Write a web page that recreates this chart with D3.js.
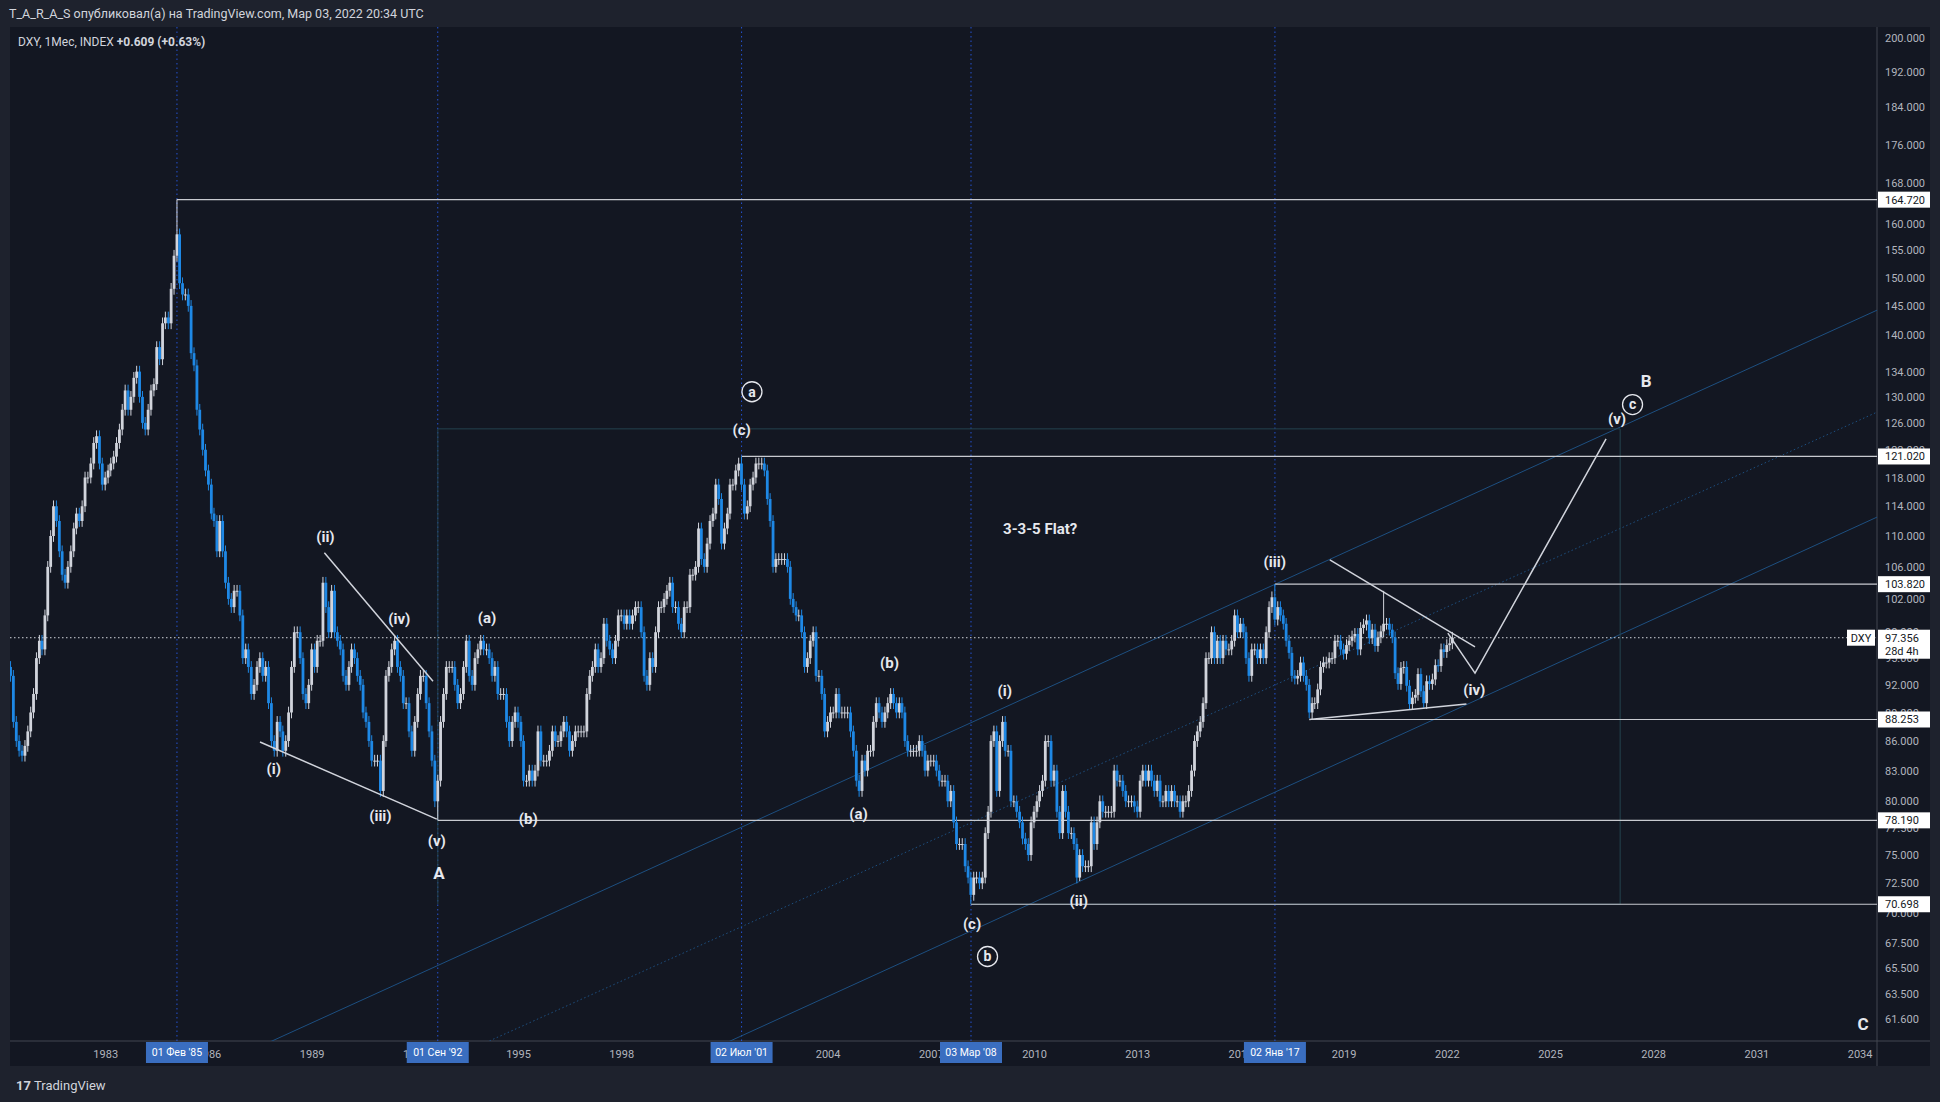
<!DOCTYPE html>
<html><head><meta charset="utf-8">
<script src="https://cdn.jsdelivr.net/npm/d3@7"></script>
<style>body{margin:0;background:#1e222d;font-family:Roboto,"Noto Sans",sans-serif}svg{display:block}</style>
</head><body><svg id="c" width="1940" height="1102"></svg>
<script>
// ---- data (monthly closes, DXY) ----
const startMonth = [1980, 3]; // April 1980 (0-based month)
const closes1980s = [93,88,86,85,84.5,85.5,87,89,91,
 95,97,96,100,106,110,114,112,108,105,104,106,
 108,111,113,112,114,118,118,120,123,124,120,117,
 118,119,120,121,123,125,128,131,128,130,133,134,
 130,126,125,128,131,132,138,136,142,143,142,148,
 154,158,149,147,147,145,137,135,128,125,122,119,
 117,113,112,108,112,108,104,102,101,103,103,100,
 95,96,94,91,92,94,95,93,94,90,86,85,
 88,87,85,86,89,94,98,98,95,91,90,92,
 96,94,97,97,104,101,98,103,98,97,96,93];
const closes1990s = [92,94,96,95,93,92,89,88,86,84,84,84,
 81,86,93,94,96,97,94,93,90,90,87,85,
 88,91,93,93,90,87,84,80,82,88,91,94,
 94,94,92,90,91,94,97,93,92,95,96,97,
 96,96,95,93,94,91,91,91,88,86,88,89,
 88,86,82,82,83,82,83,87,84,84,84,85,
 87,86,86,87,88,87,85,86,87,87,87,87,
 91,93,94,96,94,95,99,97,96,95,97,100,
 100,99,100,99,100,101,101,98,93,92,95,94,
 98,101,101,102,103,104,101,101,99,98,101,101];
const closes2000s = [105,105,106,111,107,106,109,112,113,117,115,109,
 111,113,117,117,119,120,117,113,114,117,118,120,
 120,120,119,115,112,106,107,107,107,107,106,102,
 101,100,100,98,94,95,97,98,93,93,91,87,
 88,89,89,91,89,89,89,89,87,85,82,81,
 84,83,85,85,88,90,89,88,89,90,91,90,
 89,90,89,86,85,85,85,85,86,85,83,84,
 84,84,83,82,82,82,80,81,78,76,76,76,
 74,73,71.5,73,73,72.5,73,77,79,86,87,81,
 86,88,85,85,80,80,79,78,76.5,76,75,78];
const closes2010s = [79,80,81,82,86,86,82,83,79,77,81,79,
 77,77,76,73,75,74,74,74,78,76,78,80,
 79,79,79,79,83,82,82,81,80,80,80,79.5,
 79,82,83,82,83,82,81,82,80,80,81,80,
 81,80,80,79,80,80,81,83,86,87,88,90,
 95,95,98,95,97,95,97,96,96,97,100,98,
 99,98,95,93,96,96,95,96,95,98,101,102.2,
 99.5,101,100,99,97,95.6,93,92.7,93,94.5,93,92,
 89,90,90,91.5,94,94.5,94.5,95,95,97,97,96,
 95.5,96.5,97,97.5,97.8,96,98.5,98.9,99.4,97.3,98.3,96.4];
const closes2020s = [97.4,98.1,99,99,98.3,97.4,93.3,92.1,93.9,94,91.9,89.9,
 90.6,90.9,93.2,91.3,90,92.4,92.1,92.6,94.2,94.1,96,95.7,
 96.5,96.7,97.356];
// extreme highs / lows at marked pivots: [year, month(0-based), type, value]
const extremes = [[1985,1,"h",164.72],[1992,8,"l",78.19],[2001,6,"h",121.02],
 [2008,2,"l",70.698],[2017,0,"h",103.82],[2018,1,"l",88.253],[2020,2,"h",102.99],[2021,4,"l",89.5],[2011,4,"l",72.7]];
const priceTicks = [200,192,184,176,168,160,155,150,145,140,134,130,126,122,118,114,110,106,102,98,95,92,89,86,83,80,77.5,75,72.5,70,67.5,65.5,63.5,61.6];
const yearTicks = [1983,1986,1989,1992,1995,1998,2001,2004,2007,2010,2013,2016,2019,2022,2025,2028,2031,2034];
const levelLines = [[1985.08,164.72,"164.720"],[2001.5,121.02,"121.020"],[2017.0,103.82,"103.820"],[2018.05,88.253,"88.253"],[1992.67,78.19,"78.190"],[2008.17,70.698,"70.698"]];
const markerDates = [[1985,1,1,"01 Фев '85"],[1992,8,1,"01 Сен '92"],[2001,6,2,"02 Июл '01"],[2008,2,3,"03 Мар '08"],[2017,0,2,"02 Янв '17"]];
const waveLabels = [["(i)",1987.9,83.2],["(ii)",1989.4,109.9],["(iii)",1991.0,78.6],["(iv)",1991.55,99.6],["(v)",1992.64,76.3],
 ["(a)",1994.1,99.7],["(b)",1995.3,78.3],["(c)",2001.5,124.9],["(b)",2005.8,94.5],["(a)",2004.9,78.8],
 ["(i)",2009.15,91.3],["(c)",2008.2,69.1],["(ii)",2011.3,71.0],["(iii)",2017.0,106.7],["(iv)",2022.8,91.5],["(v)",2026.95,126.6]];
const circleLabels = [["a",2001.8,130.8],["b",2008.65,66.4],["c",2027.4,128.8]];
const bigLabels = [["A",1992.7,73.4],["B",2027.8,132.5],["C",2034.1,61.2]];
const trendLines = [[[1987.5,85.9],[1992.64,78.3]],[[1989.37,107.8],[1992.53,92.4]],
 [[2018.6,106.9],[2022.82,96.3]],[[2018.0,88.25],[2022.57,89.9]]];
const projection = [[2022.03,97.9],[2022.82,93.3],[2026.63,123.6]];
const channels = [[[2010.47,91.8],[2034.45,144.1],"solid"],[[2010.47,81.4],[2034.45,127.5],"dot"],[[2010.47,71.5],[2034.45,112.4],"solid"]];
const boxCorners = [[1992.67,125.1],[2027.04,70.698]];

// ---- build candles ----
const allCloses = [].concat(closes1980s,closes1990s,closes2000s,closes2010s,closes2020s);
const candles = allCloses.map((c,i)=>{
  const y=startMonth[0]+Math.floor((startMonth[1]+i)/12), m=(startMonth[1]+i)%12;
  const o = i===0?94:allCloses[i-1];
  let h=Math.max(o,c)*1.007, l=Math.min(o,c)*0.993;
  extremes.forEach(e=>{ if(e[0]===y&&e[1]===m){ if(e[2]==="h") h=e[3]; else l=e[3]; } });
  return {d:new Date(Date.UTC(y,m,1)),o,h,l,c};
});

const svg=d3.select("#c");
const L=10,R=1877,T=27,B=1041;
const yr=v=>{const y=Math.floor(v);const f=v-y;return new Date(Date.UTC(y,0,1)+f*365.25*864e5);};
const x=d3.scaleUtc().domain([new Date(Date.UTC(1983,0,1)),new Date(Date.UTC(2034,0,1))]).range([105.2,1859.6]);
const y=d3.scaleLog().domain([61.6,200]).range([1019,38]);
const X=v=>x(yr(v));

// background
svg.append("rect").attr("width",1940).attr("height",1102).attr("fill","#1e222d");
svg.append("rect").attr("x",L).attr("y",T).attr("width",1930-L).attr("height",1066-T).attr("fill","#131722");
svg.append("line").attr("x1",R).attr("x2",R).attr("y1",T).attr("y2",1066).attr("stroke","#434651");
svg.append("line").attr("x1",L).attr("x2",1930).attr("y1",B).attr("y2",B).attr("stroke","#434651");
svg.append("text").attr("x",9).attr("y",18).attr("fill","#d1d4dc").attr("font-size",12.5).text("T_A_R_A_S опубликовал(а) на TradingView.com, Мар 03, 2022 20:34 UTC");

svg.append("defs").append("clipPath").attr("id","pc").append("rect").attr("x",L).attr("y",T).attr("width",R-L).attr("height",B-T);
const g=svg.append("g").attr("clip-path","url(#pc)");

// marker vertical dotted lines
markerDates.forEach(m=>{const xx=x(new Date(Date.UTC(m[0],m[1],m[2])));
 g.append("line").attr("x1",xx).attr("x2",xx).attr("y1",T).attr("y2",B).attr("stroke","#2962ff").attr("stroke-dasharray","1.5,3").attr("opacity",0.8);});

// channels
const lx=[1975,2040];
channels.forEach(ch=>{const [p1,p2,st]=ch;const k=(Math.log(p2[1])-Math.log(p1[1]))/(p2[0]-p1[0]);
 const pts=lx.map(t=>[X(t),y(Math.exp(Math.log(p1[1])+k*(t-p1[0])))]);
 g.append("path").attr("d",d3.line()(pts)).attr("stroke","#1d4f80").attr("stroke-width",1).attr("fill","none").attr("stroke-dasharray",st==="dot"?"1.5,2.5":null);});

// box
const [b0,b1]=boxCorners;
g.append("path").attr("d",d3.line()([[X(b0[0]),y(b1[1])],[X(b0[0]),y(b0[1])],[X(b1[0]),y(b0[1])],[X(b1[0]),y(b1[1])],[X(2008.17),y(b1[1])]])).attr("stroke","#24434f").attr("fill","none");

// price levels
levelLines.forEach(l=>g.append("line").attr("x1",X(l[0])).attr("x2",R).attr("y1",y(l[1])).attr("y2",y(l[1])).attr("stroke","#c8cad0").attr("stroke-width",1.2));
// current price dotted
g.append("line").attr("x1",L).attr("x2",R).attr("y1",y(97.356)).attr("y2",y(97.356)).attr("stroke","#d1d4dc").attr("stroke-dasharray","1.5,2.5");

// candles
const bw=2.2;
const cg=g.append("g");
candles.forEach(c=>{const up=c.c>=c.o;const col=up?"#d1d4dc":"#1e88e5";const cx=x(c.d);
 cg.append("line").attr("x1",cx).attr("x2",cx).attr("y1",y(c.h)).attr("y2",y(c.l)).attr("stroke",col).attr("stroke-width",1);
 const t=y(Math.max(c.o,c.c)),b=y(Math.min(c.o,c.c));
 cg.append("rect").attr("x",cx-bw/2-0.3).attr("y",t).attr("width",bw+0.6).attr("height",Math.max(1,b-t)).attr("fill",col);});

// trend lines
trendLines.forEach(t=>g.append("line").attr("x1",X(t[0][0])).attr("y1",y(t[0][1])).attr("x2",X(t[1][0])).attr("y2",y(t[1][1])).attr("stroke","#d1d4dc").attr("stroke-width",1.5));
g.append("path").attr("d",d3.line()(projection.map(p=>[X(p[0]),y(p[1])]))).attr("stroke","#d1d4dc").attr("stroke-width",1.5).attr("fill","none");

// labels
const lab="#e6e8ee";
waveLabels.forEach(w=>g.append("text").attr("x",X(w[1])).attr("y",y(w[2])).attr("dy","0.35em").attr("text-anchor","middle").attr("fill",lab).attr("font-size",15).attr("font-weight","bold").text(w[0]));
circleLabels.forEach(w=>{g.append("circle").attr("cx",X(w[1])).attr("cy",y(w[2])).attr("r",10).attr("fill","none").attr("stroke",lab).attr("stroke-width",1.3);
 g.append("text").attr("x",X(w[1])).attr("y",y(w[2])).attr("dy","0.35em").attr("text-anchor","middle").attr("fill",lab).attr("font-size",14).attr("font-weight","bold").text(w[0]);});
bigLabels.forEach(w=>g.append("text").attr("x",X(w[1])).attr("y",y(w[2])).attr("dy","0.35em").attr("text-anchor","middle").attr("fill",lab).attr("font-size",17).attr("font-weight","bold").text(w[0]));
g.append("text").attr("x",X(2009.1)).attr("y",y(110.9)).attr("dy","0.35em").attr("fill",lab).attr("font-size",15).attr("font-weight","bold").text("3-3-5 Flat?");

// legend
const lg=svg.append("text").attr("x",18).attr("y",46).attr("fill","#d1d4dc").attr("font-size",12);
lg.append("tspan").text("DXY, 1Мес, INDEX  ");
lg.append("tspan").attr("font-weight","bold").text("+0.609 (+0.63%)");

// y axis
const ya=svg.append("g").attr("transform",`translate(${R},0)`).call(d3.axisRight(y).tickValues(priceTicks).tickSize(0).tickPadding(8).tickFormat(d3.format(".3f")));
ya.select(".domain").remove();
ya.selectAll("text").attr("fill","#b2b5be").attr("font-size",11).attr("font-family","Roboto,sans-serif");

// x axis
const xa=svg.append("g").attr("transform",`translate(0,${B})`).call(d3.axisBottom(x).tickValues(yearTicks.map(v=>new Date(Date.UTC(v,0,1)))).tickSize(0).tickPadding(9).tickFormat(d3.utcFormat("%Y")));
xa.select(".domain").remove();
xa.selectAll("text").attr("fill","#b2b5be").attr("font-size",11).attr("font-family","Roboto,sans-serif");

// x marker boxes
markerDates.forEach(m=>{const xx=x(new Date(Date.UTC(m[0],m[1],m[2])));
 svg.append("rect").attr("x",xx-31).attr("y",B+1).attr("width",62).attr("height",21).attr("fill","#3a6ec0");
 svg.append("text").attr("x",xx).attr("y",B+15).attr("text-anchor","middle").attr("fill","#fff").attr("font-size",10.5).text(m[3]);});

// price label boxes
levelLines.forEach(l=>{const yy=y(l[1]);
 svg.append("rect").attr("x",R+1).attr("y",yy-8).attr("width",52).attr("height",16).attr("fill","#ffffff");
 svg.append("text").attr("x",R+8).attr("y",yy+4).attr("fill","#131722").attr("font-size",11).text(l[2]);});
const cy=y(97.356);
svg.append("rect").attr("x",R+1).attr("y",cy-8).attr("width",52).attr("height",29).attr("fill","#ffffff");
svg.append("text").attr("x",R+8).attr("y",cy+4).attr("fill","#131722").attr("font-size",11).text("97.356");
svg.append("text").attr("x",R+8).attr("y",cy+17).attr("fill","#131722").attr("font-size",11).text("28d 4h");
svg.append("rect").attr("x",R-30).attr("y",cy-8).attr("width",28).attr("height",16).attr("fill","#ffffff");
svg.append("text").attr("x",R-16).attr("y",cy+4).attr("text-anchor","middle").attr("fill","#131722").attr("font-size",11).text("DXY");

// footer
svg.append("text").attr("x",16).attr("y",1090).attr("fill","#d1d4dc").attr("font-size",13).attr("font-weight","bold").text("17");
svg.append("text").attr("x",34).attr("y",1090).attr("fill","#d1d4dc").attr("font-size",13).text("TradingView");
</script></body></html>
